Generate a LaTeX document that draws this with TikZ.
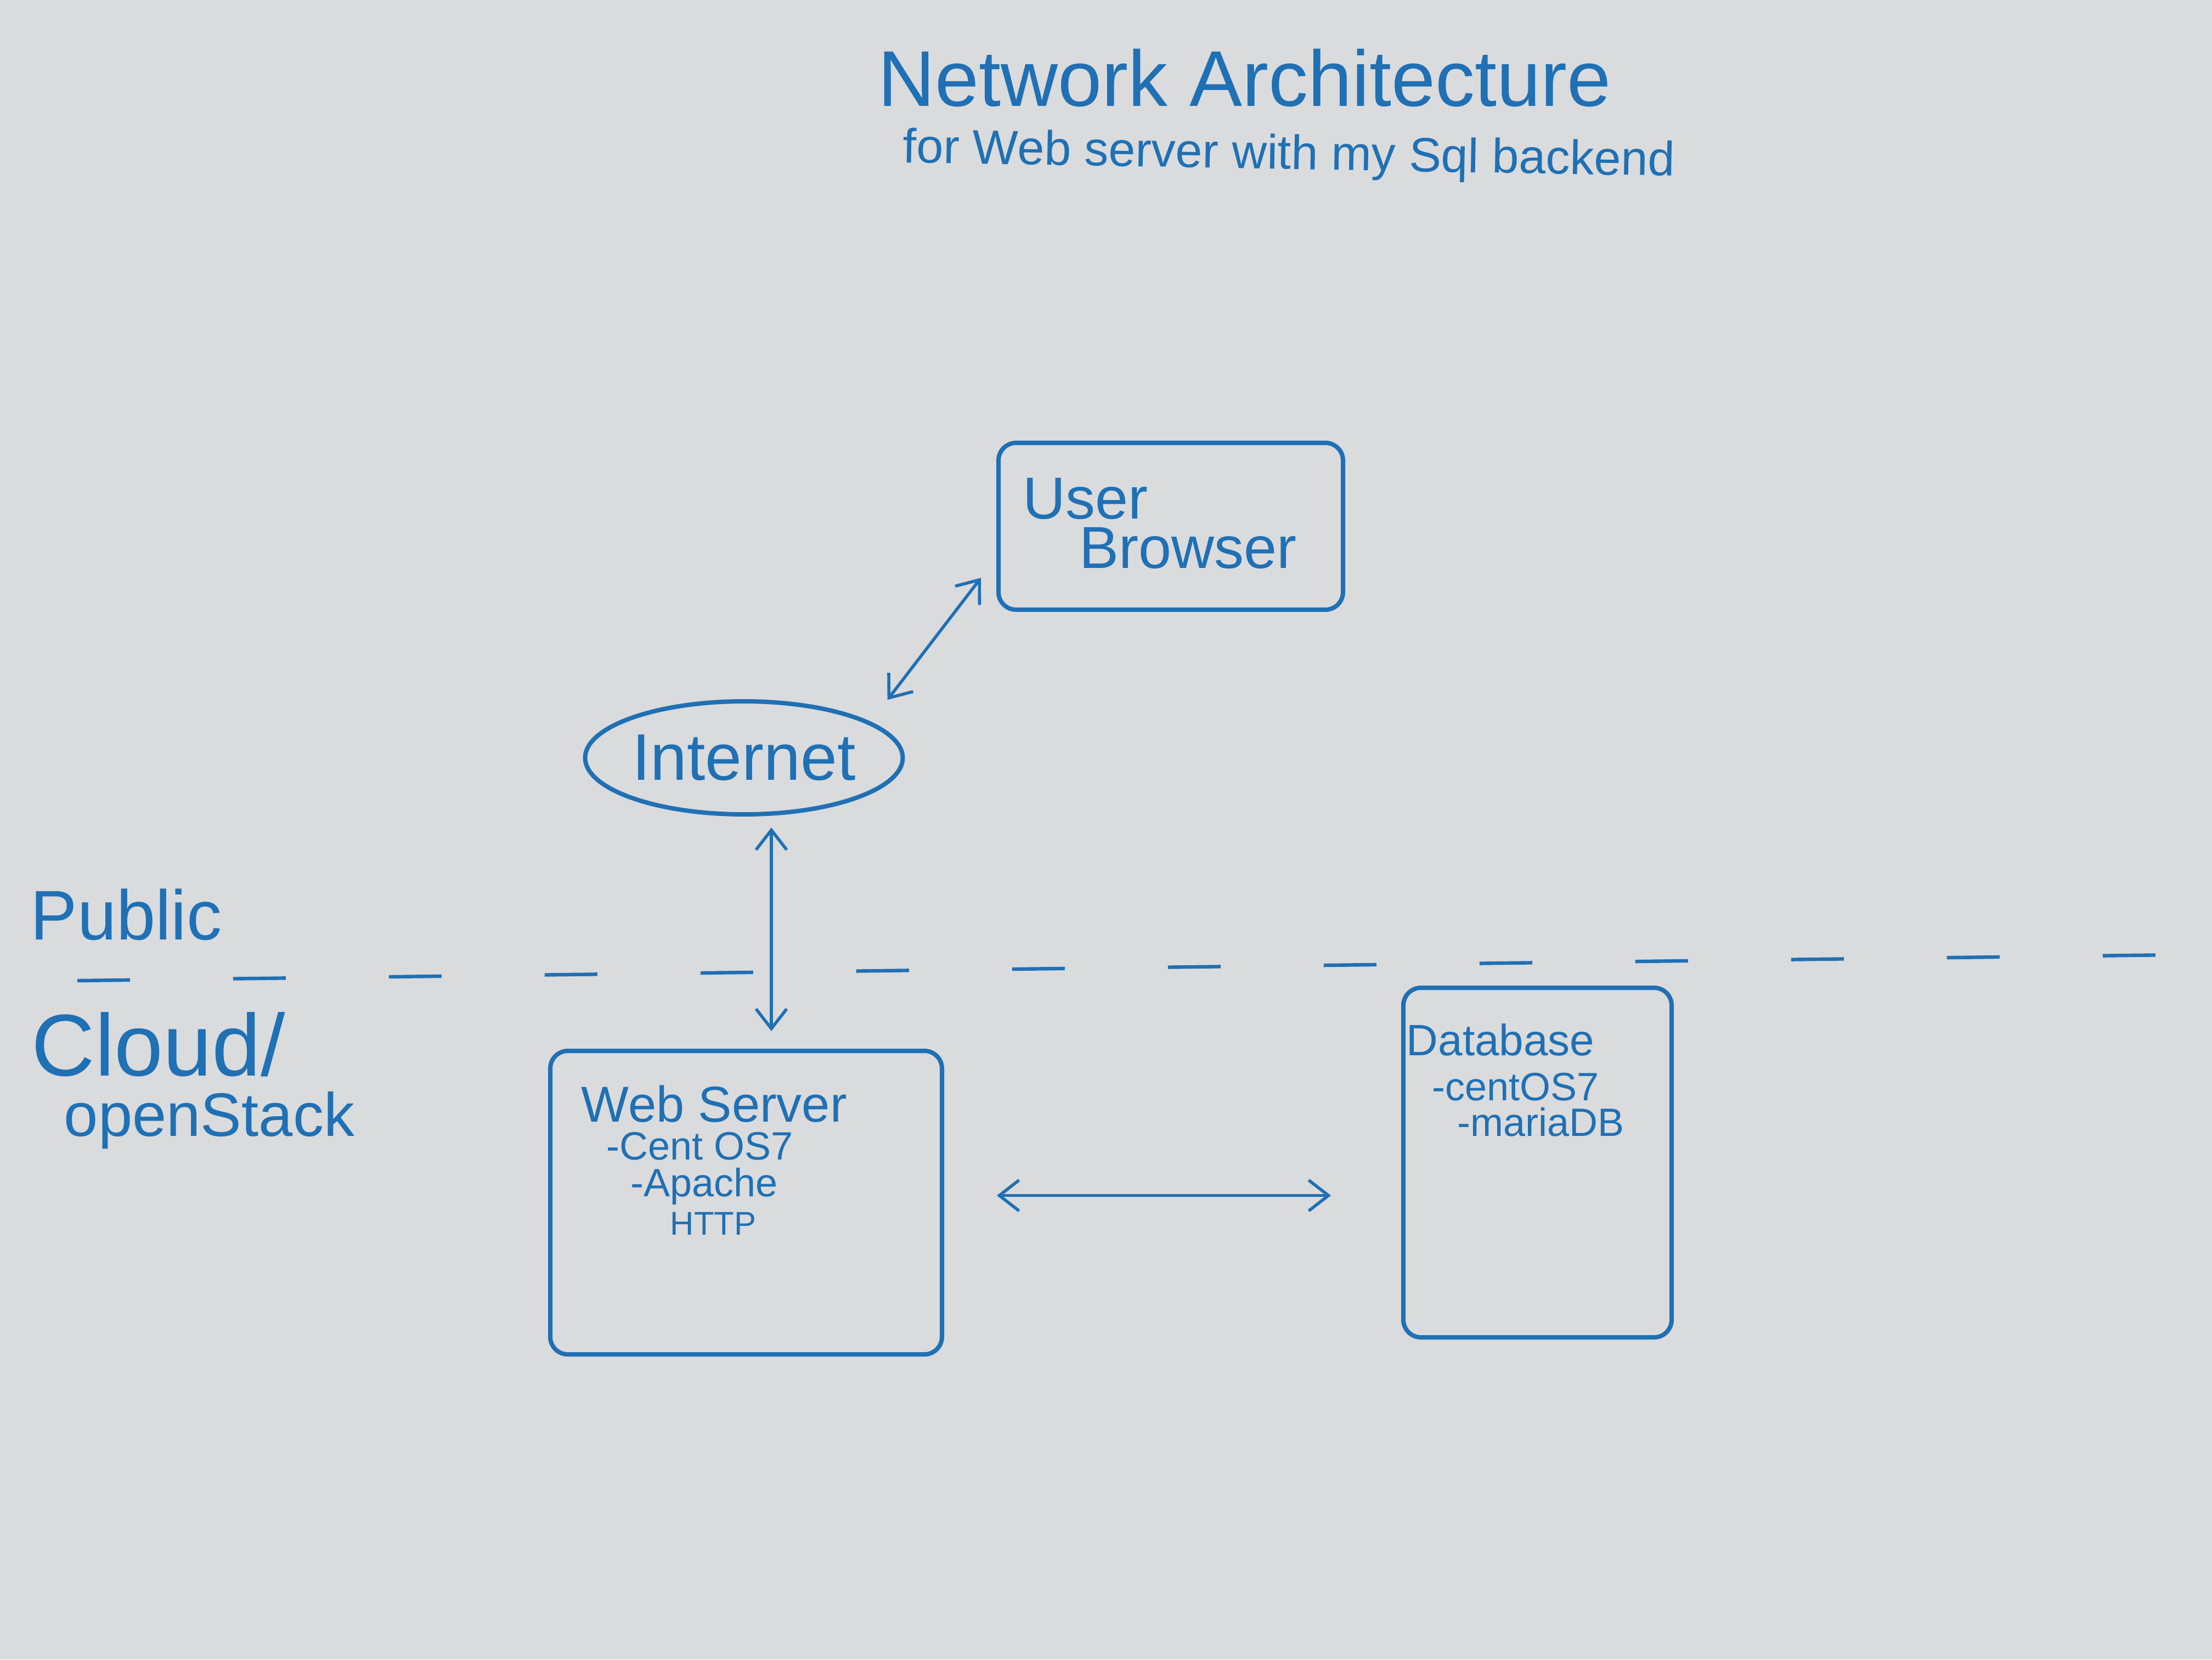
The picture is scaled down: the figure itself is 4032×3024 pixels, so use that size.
\documentclass[tikz,border=0pt]{standalone}
\usepackage{fontspec}
\setmainfont{Liberation Sans}
\usetikzlibrary{arrows.meta,shapes.geometric}
\definecolor{ink}{RGB}{31,112,180}
\definecolor{paper}{RGB}{218,219,221}
\tikzset{
  box/.style={draw=ink, line width=2pt, rounded corners=8pt, inner sep=0pt},
  cloudnode/.style={draw=ink, line width=2pt, ellipse, inner sep=0pt, text=ink},
  conn/.style={draw=ink, line width=1.4pt, {Straight Barb[length=9pt,width=14pt]}-{Straight Barb[length=9pt,width=14pt]}},
  divider/.style={draw=ink, line width=1.6pt, dash pattern=on 24pt off 47pt},
  lbl/.style={text=ink, inner sep=0pt, anchor=base west},
}
\begin{document}
\begin{tikzpicture}[x=0.25pt,y=-0.25pt]
\fill[paper] (0,0) rectangle (4032,3024);
\useasboundingbox (0,0) rectangle (4032,3024);

% title
\node[lbl, font=\fontsize{36}{40}\selectfont] (title) at (1600,193) {Network Architecture};
\node[lbl, font=\fontsize{22}{26}\selectfont, rotate=-1] (subtitle) at (1645,296) {for Web server with my Sql backend};

% user browser
\node[box, minimum width=157pt, minimum height=76pt] (user) at (2134,959) {};
\node[lbl, font=\fontsize{27}{30}\selectfont] (usertxt) at (1864,945) {User};
\node[lbl, font=\fontsize{27}{30}\selectfont] (browsertxt) at (1967,1035) {Browser};

% internet
\node[cloudnode, minimum width=144.75pt, minimum height=51.5pt, font=\fontsize{30}{34}\selectfont] (inet) at (1356,1381) {Internet};

% zones
\node[lbl, font=\fontsize{32}{36}\selectfont] (public) at (55,1712) {Public};
\node[lbl, font=\fontsize{40}{44}\selectfont] (cloud) at (57,1960) {Cloud/};
\node[lbl, font=\fontsize{28}{32}\selectfont] (openstack) at (116,2070) {openStack};

\coordinate (dl) at (141,1787);
\coordinate (dr) at (3960,1740);
\draw[divider] (dl) -- (dr);

% web server
\node[box, minimum width=178.5pt, minimum height=138.25pt] (ws) at (1360,2191.5) {};
\node[lbl, font=\fontsize{23}{26}\selectfont] (wst) at (1059,2044) {Web Server};
\node[lbl, font=\fontsize{18}{21}\selectfont] (wsa) at (1105,2113) {-Cent OS7};
\node[lbl, font=\fontsize{18}{21}\selectfont] (wsb) at (1149,2180) {-Apache};
\node[lbl, font=\fontsize{15}{18}\selectfont] (wsc) at (1221,2250) {HTTP};

% database
\node[box, minimum width=122.25pt, minimum height=159.25pt] (db) at (2802.5,2118.5) {};
\node[lbl, font=\fontsize{20}{24}\selectfont] (dbt) at (2563,1923) {Database};
\node[lbl, font=\fontsize{18}{21}\selectfont] (dba) at (2610,2005) {-centOS7};
\node[lbl, font=\fontsize{18}{21}\selectfont] (dbb) at (2656,2070) {-mariaDB};

% connectors
\draw[conn] ([xshift=13.5pt,yshift=7.5pt]inet.north east) -- ([xshift=-7pt,yshift=15.5pt]user.south west);
\draw[conn] ([xshift=12.5pt,yshift=-5pt]inet.south) -- ([xshift=11.5pt,yshift=8pt]ws.north);
\draw[conn] ([xshift=24pt,yshift=3.25pt]ws.east) -- ([xshift=-32pt,yshift=-15pt]db.west);
\end{tikzpicture}
\end{document}
